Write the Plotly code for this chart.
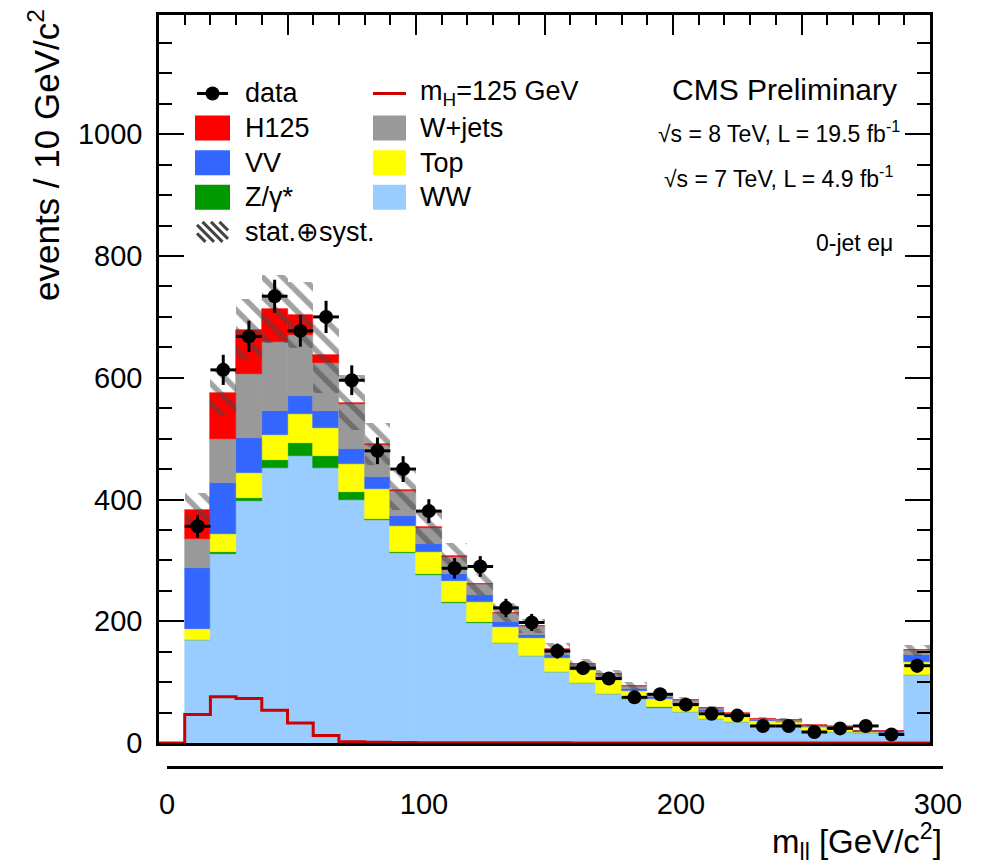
import numpy as np
import plotly.graph_objects as go

W, H = 989, 866

# 10 GeV bins from 10 to 300 GeV (last bin holds the overflow)
bin_lo = list(range(10, 300, 10))

ww = [169, 311, 398, 452, 472, 451, 400, 366, 312, 276, 230, 197, 164.5, 143, 116,
      98, 81, 71.5, 58.3, 51, 40, 34.7, 27.6, 26.5, 20, 18.3, 16.6, 15, 111]
zgamma = [1, 3, 5, 13, 21, 20, 12, 2, 1.5, 1.5, 1, 1, 0.5, 0.5, 0.5,
          0.3, 0.3, 0.2, 0.2, 0.2, 0.2, 0.1, 0.1, 0.1, 0.1, 0.1, 0.1, 0, 0.4]
top = [17, 29, 40, 41, 47, 46, 47, 49, 43, 36.5, 35, 34, 26, 29, 22.5,
       21.5, 21.7, 13.3, 14, 12, 10.8, 9.2, 8.1, 7.1, 5.4, 5.4, 1.5, 1.6, 21.6]
vv = [101, 84, 58, 39, 30, 28, 24, 20, 17, 12.7, 11, 11, 7, 5.5, 6,
      5.5, 5.7, 4, 3.3, 3.3, 3, 2, 1.7, 1.6, 1.5, 1.5, 0.7, 3.4, 11]
wjets = [47, 72, 105, 114, 100, 80, 74, 53, 41, 27.3, 29, 18.5, 16, 14, 8.5,
         4, 4.3, 4.3, 4.2, 3.8, 2.7, 2.4, 2.5, 2.2, 1.7, 1.2, 0.5, 0, 8.5]
h125 = [47, 76, 73, 54, 33, 12.5, 2.2, 1.2, 0.8, 0.6, 0.5, 0.4, 0.4, 0.3, 0.3,
        0.2, 0.2, 0.2, 0.2, 0.1, 0.1, 0.1, 0.1, 0.1, 0.1, 0.1, 0.1, 0.1, 0.2]
syst = [28, 36, 50, 56, 54, 62, 45, 35, 32, 28, 22, 18, 16, 12, 10,
        8, 7, 6, 5, 5, 4, 3.5, 3, 3, 2.5, 2.5, 2, 2, 9]
data = [356, 613, 668, 734, 677, 700, 596, 480, 450, 381, 287, 290, 222, 198, 151,
        123, 106, 75, 80, 63, 48, 45, 28, 28, 18, 24, 28, 14, 127]

# signal-only curve, including the empty 0-10 GeV bin
mh_lo = [0] + bin_lo
mh_line = [0] + h125

x_ticks = [0, 100, 200, 300]

# ---- page geometry (pixels) ----
ML, MR, MT, MB = 159, 40, 15, 80
PW = W - ML - MR
PH = H - MT - MB


def fx(px):
    return (px - ML) / PW


def fy(py):
    return (H - MB - py) / PH


FONT = "Liberation Sans, Arial, Helvetica, sans-serif"
HATCH = "#454545"

centers = np.array(bin_lo) + 5.0
stack = [
    ("WW", ww, "#99ccff"),
    ("Z/γ*", zgamma, "#009900"),
    ("Top", top, "#ffff00"),
    ("VV", vv, "#3366ff"),
    ("W+jets", wjets, "#999999"),
    ("H125", h125, "#ff0000"),
]

fig = go.Figure()
base = np.zeros(len(bin_lo))
for name, vals, col in stack:
    v = np.array(vals, dtype=float)
    fig.add_trace(go.Bar(
        x=centers, y=v, base=base.copy(), width=10, name=name,
        marker=dict(color=col, line=dict(color=col, width=0.6)),
        showlegend=False, hoverinfo="skip",
    ))
    base = base + v
total = base

err = np.array(syst, dtype=float)
fig.add_trace(go.Bar(
    x=centers, y=2 * err, base=total - err, width=10, name="stat.⊕syst.",
    marker=dict(color="rgba(0,0,0,0)", line=dict(width=0),
                pattern=dict(shape="\\", fgcolor=HATCH, bgcolor="rgba(0,0,0,0)",
                             size=14, solidity=0.4, fillmode="overlay")),
    showlegend=False, hoverinfo="skip",
))

fig.add_trace(go.Scatter(
    x=mh_lo + [300], y=mh_line + [mh_line[-1]], mode="lines",
    line=dict(color="#cc0000", width=3, shape="hv"),
    cliponaxis=False, showlegend=False, hoverinfo="skip",
))

d = np.array(data, dtype=float)
fig.add_trace(go.Scatter(
    x=centers, y=d, mode="markers",
    marker=dict(color="black", size=14),
    error_y=dict(type="data", array=np.sqrt(d), thickness=3, width=0, color="black"),
    error_x=dict(type="constant", value=5, thickness=3, width=0, color="black"),
    showlegend=False, hoverinfo="skip",
))

# the separate labelled mass axis below the frame
fig.add_trace(go.Scatter(x=[], y=[], xaxis="x2", yaxis="y", showlegend=False))

# ---- hand-placed legend ----
shapes = []
annotations = []
row0, drow = 93.5, 34.6
col1_sym, col1_txt = (195, 230), 243
col2_sym, col2_txt = (373, 406), 418
leg_font = dict(family=FONT, size=27, color="black")

col1 = [("data", "data", None), ("H125", "box", "#ff0000"), ("VV", "box", "#3366ff"),
        ("Z/γ*", "box", "#009900"), ("stat.⊕syst.", "hatch", None)]
col2 = [("m<sub>H</sub>=125 GeV", "line", "#cc0000"), ("W+jets", "box", "#999999"),
        ("Top", "box", "#ffff00"), ("WW", "box", "#99ccff")]

for (sx0, sx1), tx, entries in [(col1_sym, col1_txt, col1), (col2_sym, col2_txt, col2)]:
    for i, (label, kind, col) in enumerate(entries):
        yc = row0 + i * drow
        if kind == "box":
            shapes.append(dict(type="rect", xref="paper", yref="paper",
                               x0=fx(sx0), x1=fx(sx1), y0=fy(yc + 12.5), y1=fy(yc - 12.5),
                               fillcolor=col, line=dict(width=0)))
        elif kind == "line":
            shapes.append(dict(type="line", xref="paper", yref="paper",
                               x0=fx(sx0), x1=fx(sx1), y0=fy(yc), y1=fy(yc),
                               line=dict(color=col, width=3)))
        elif kind == "data":
            xm = 0.5 * (sx0 + sx1)
            shapes.append(dict(type="line", xref="paper", yref="paper",
                               x0=fx(sx0 + 2), x1=fx(sx1 - 2), y0=fy(yc), y1=fy(yc),
                               line=dict(color="black", width=3)))
            shapes.append(dict(type="circle", xref="paper", yref="paper",
                               x0=fx(xm - 7), x1=fx(xm + 7), y0=fy(yc + 7), y1=fy(yc - 7),
                               fillcolor="black", line=dict(width=0)))
        elif kind == "hatch":
            bx0, bx1, by0, by1 = sx0 + 2, sx1 - 2, yc - 10, yc + 10
            for c in np.arange(bx0 - (by1 - by0), bx1, 8.5):
                # stripe along x - y = const, clipped to the swatch
                xa, ya = c, by0
                if xa < bx0:
                    ya, xa = by0 + (bx0 - xa), bx0
                xb, yb = c + (by1 - by0), by1
                if xb > bx1:
                    yb, xb = by1 - (xb - bx1), bx1
                if xb - xa < 2:
                    continue
                shapes.append(dict(type="line", xref="paper", yref="paper",
                                   x0=fx(xa), x1=fx(xb), y0=fy(ya), y1=fy(yb),
                                   line=dict(color=HATCH, width=3)))
        annotations.append(dict(xref="paper", yref="paper", x=fx(tx), y=fy(yc),
                                xanchor="left", yanchor="middle", text=label,
                                showarrow=False, font=leg_font))

# ---- labels on the right ----
for text, xr, yc, size in [
    ("CMS Preliminary", 899, 90, 30),
    ("√s = 8 TeV, L = 19.5 fb<sup>-1</sup>", 902, 132, 23),
    ("√s = 7 TeV, L = 4.9 fb<sup>-1</sup>", 895, 177, 23),
    ("0-jet eμ", 895, 243, 23),
]:
    annotations.append(dict(xref="paper", yref="paper", x=fx(xr), y=fy(yc),
                            xanchor="right", yanchor="middle", text=text, showarrow=False,
                            font=dict(family=FONT, size=size, color="black")))

# axis titles
annotations.append(dict(xref="paper", yref="paper", x=fx(44), y=fy(155),
                        xanchor="center", yanchor="middle", textangle=-90,
                        text="events / 10 GeV/c<sup>2</sup>", showarrow=False,
                        font=dict(family=FONT, size=35, color="black")))
annotations.append(dict(xref="paper", yref="paper", x=fx(944), y=fy(841),
                        xanchor="right", yanchor="middle",
                        text="m<sub>ll</sub> [GeV/c<sup>2</sup>]", showarrow=False,
                        font=dict(family=FONT, size=33, color="black")))

x2_left, x2_right = 167, 943
x2_range = (x2_right - x2_left) / (930 - 159) * 300

fig.update_layout(
    width=W, height=H,
    margin=dict(l=ML, r=MR, t=MT, b=MB, pad=0),
    paper_bgcolor="white", plot_bgcolor="rgba(0,0,0,0)",
    barmode="overlay", bargap=0,
    font=dict(family=FONT, color="black"),
    shapes=shapes, annotations=annotations,
    xaxis=dict(
        domain=[0, fx(930)], range=[0, 300], side="top", anchor="y",
        showline=True, linecolor="black", linewidth=2.5, mirror=True,
        ticks="inside", ticklen=20, tickwidth=1.5, tickcolor="black",
        dtick=50, tick0=0, showticklabels=False, showgrid=False, zeroline=False,
        minor=dict(ticks="inside", ticklen=10, tickwidth=1.5, tickcolor="black", dtick=10,
                   showgrid=False),
    ),
    xaxis2=dict(
        domain=[fx(x2_left), fx(x2_right)], range=[0, x2_range], anchor="free",
        position=fy(767), showline=True, linecolor="black", linewidth=2.5,
        ticks="", tickvals=x_ticks, ticktext=[str(t) for t in x_ticks],
        ticklabelstandoff=10,
        tickfont=dict(family=FONT, size=29, color="black"),
        showgrid=False, zeroline=False,
    ),
    yaxis=dict(
        domain=[fy(743), 1], range=[0, 1196], anchor="x",
        showline=True, linecolor="black", linewidth=2.5, mirror="ticks",
        ticks="inside", ticklen=25, tickwidth=1.5, tickcolor="black",
        dtick=200, tick0=0, ticklabelstandoff=8,
        tickfont=dict(family=FONT, size=29, color="black"),
        showgrid=False, zeroline=False,
        minor=dict(ticks="inside", ticklen=13, tickwidth=1.5, tickcolor="black", dtick=50,
                   showgrid=False),
    ),
)

fig.write_html("out.html")
